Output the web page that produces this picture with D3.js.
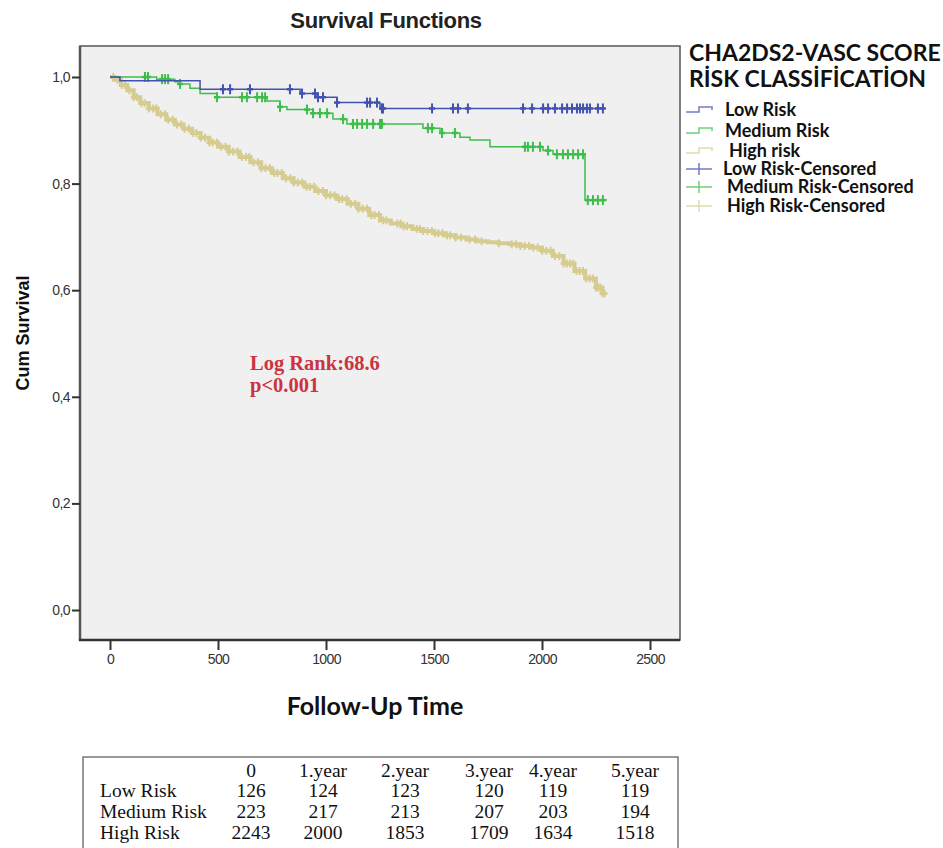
<!DOCTYPE html>
<html>
<head>
<meta charset="utf-8">
<script src="https://cdn.jsdelivr.net/npm/d3@7"></script>
<style>
  body { margin: 0; background: #fff; }
</style>
</head>
<body>
<script>
const width = 943;
const height = 848;

// Kaplan-Meier steps (time in days, cumulative survival)
const lowTime = [0, 46, 417, 880, 958, 1051, 1250];
const lowSurv = [1.0, 0.993, 0.977, 0.969, 0.962, 0.952, 0.941];
const lowEnd = 2282;
const lowCensored = [523, 556, 648, 833, 889, 949, 963, 986, 1051, 1190, 1204, 1236, 1259, 1264,
  1491, 1588, 1611, 1657, 1912, 1954, 2005, 2028, 2060, 2093, 2116, 2139, 2162, 2176, 2190, 2208, 2222, 2259, 2282];

const medTime = [0, 216, 300, 324, 370, 417, 495, 727, 787, 819, 940, 1032, 1097, 1449, 1528, 1620, 1667, 1759, 2005, 2051, 2199];
const medSurv = [1.0, 0.996, 0.991, 0.987, 0.979, 0.969, 0.962, 0.955, 0.944, 0.939, 0.932, 0.921, 0.912, 0.904, 0.895, 0.887, 0.882, 0.869, 0.862, 0.855, 0.769];
const medEnd = 2301;
const medCensored = [162, 176, 241, 255, 269, 324, 495, 611, 634, 681, 704, 718, 787, 912, 940, 972, 1005, 1079, 1125,
  1144, 1167, 1190, 1218, 1250, 1259, 1472, 1491, 1537, 1597, 1921, 1935, 1958, 1991, 2028, 2069, 2097, 2120,
  2144, 2167, 2190, 2212, 2236, 2259, 2282];

const highTime = [0, 20, 50, 80, 110, 140, 180, 220, 260, 300, 340, 380, 420, 460, 500, 550, 600, 650, 700, 750, 800,
  850, 900, 950, 1000, 1050, 1100, 1150, 1200, 1250, 1300, 1350, 1400, 1450, 1500, 1550, 1600, 1650, 1700, 1750,
  1800, 1850, 1900, 1950, 2000, 2050, 2100, 2150, 2200, 2250, 2280];
const highSurv = [1.0, 0.995, 0.985, 0.975, 0.962, 0.951, 0.941, 0.930, 0.920, 0.911, 0.903, 0.895, 0.886, 0.877,
  0.869, 0.860, 0.850, 0.840, 0.829, 0.820, 0.810, 0.802, 0.794, 0.786, 0.778, 0.771, 0.762, 0.753, 0.741, 0.731,
  0.725, 0.720, 0.715, 0.711, 0.707, 0.703, 0.699, 0.695, 0.692, 0.690, 0.688, 0.686, 0.683, 0.680, 0.674, 0.664,
  0.650, 0.636, 0.622, 0.605, 0.594];
const highEnd = 2290;
const highCensored = [15, 35, 55, 70, 90, 110, 125, 145, 160, 180, 200, 215, 235, 255, 270, 290, 310, 330, 345, 365,
  385, 400, 420, 440, 460, 475, 495, 515, 535, 550, 570, 590, 610, 630, 645, 665, 685, 700, 720, 740, 760, 775,
  795, 815, 835, 850, 870, 890, 910, 925, 945, 965, 985, 1000, 1020, 1040, 1060, 1075, 1095, 1115, 1135, 1150,
  1170, 1190, 1210, 1225, 1245, 1265, 1280, 1330, 1345, 1360, 1375, 1420, 1435, 1450, 1470, 1490, 1505, 1520,
  1540, 1560, 1575, 1600, 1625, 1665, 1690, 1720, 1800, 1860, 1880, 1900, 1920, 1940, 1960, 1980, 2000, 2020,
  2040, 2060, 2080, 2100, 2115, 2130, 2145, 2160, 2175, 2190, 2205, 2220, 2235, 2250, 2260, 2270, 2280, 2290];

const xTicks = [0, 500, 1000, 1500, 2000, 2500];
const yTicks = [0, 0.2, 0.4, 0.6, 0.8, 1.0];

const legendLabels = ["Low Risk", "Medium Risk", " High risk", "Low Risk-Censored", "Medium Risk-Censored", "High Risk-Censored"];

const tableHeader = ["0", "1.year", "2.year", "3.year", "4.year", "5.year"];
const tableRows = ["Low Risk", "Medium Risk", "High Risk"];
const tableLow = [126, 124, 123, 120, 119, 119];
const tableMedium = [223, 217, 213, 207, 203, 194];
const tableHigh = [2243, 2000, 1853, 1709, 1634, 1518];

const colBlue = "#4152b0";
const colGreen = "#3fbd4c";
const colTan = "#d6cc90";

const svg = d3.select("body").append("svg")
  .attr("width", width)
  .attr("height", height);

const x = d3.scaleLinear().domain([0, 2500]).range([110, 650]);
const y = d3.scaleLinear().domain([0, 1]).range([610, 77]);

// plot area
svg.append("rect")
  .attr("x", 80).attr("y", 46)
  .attr("width", 600).attr("height", 594)
  .attr("fill", "#f0f0f0")
  .attr("stroke", "#555")
  .attr("stroke-width", 1.5);
svg.append("line").attr("x1", 80).attr("x2", 80).attr("y1", 46).attr("y2", 641)
  .attr("stroke", "#555").attr("stroke-width", 2.5);
svg.append("line").attr("x1", 79).attr("x2", 680).attr("y1", 640).attr("y2", 640)
  .attr("stroke", "#333").attr("stroke-width", 2.5);

// axes
const yAxis = svg.append("g")
  .attr("transform", "translate(80,0)")
  .call(d3.axisLeft(y).tickValues(yTicks).tickSize(8).tickPadding(2)
    .tickFormat(d => d3.format(".1f")(d).replace(".", ",")));
const xAxis = svg.append("g")
  .attr("transform", "translate(0,640)")
  .call(d3.axisBottom(x).tickValues(xTicks).tickSize(10).tickPadding(4)
    .tickFormat(d3.format("d")));
[yAxis, xAxis].forEach(g => {
  g.select(".domain").remove();
  g.selectAll(".tick line").attr("stroke", "#333").attr("stroke-width", 2);
  g.selectAll(".tick text")
    .attr("fill", "#333")
    .attr("font-family", "'Liberation Sans', Arial, sans-serif")
    .attr("font-size", 14)
    .attr("letter-spacing", -0.6);
});

// curves
function stepData(times, surv, end) {
  const pts = times.map((t, i) => [t, surv[i]]);
  pts.push([end, surv[surv.length - 1]]);
  return pts;
}
function survAt(times, surv, t) {
  const i = d3.bisectRight(times, t) - 1;
  return surv[Math.max(0, i)];
}
const line = d3.line()
  .x(d => x(d[0]))
  .y(d => y(d[1]))
  .curve(d3.curveStepAfter);

const groups = [
  { times: highTime, surv: highSurv, end: highEnd, cens: highCensored, color: colTan, w: 4, h: 4 },
  { times: medTime, surv: medSurv, end: medEnd, cens: medCensored, color: colGreen, w: 1.5, h: 5 },
  { times: lowTime, surv: lowSurv, end: lowEnd, cens: lowCensored, color: colBlue, w: 1.5, h: 5 }
];

groups.forEach(g => {
  svg.append("path")
    .datum(stepData(g.times, g.surv, g.end))
    .attr("fill", "none")
    .attr("stroke", g.color)
    .attr("stroke-width", g.w)
    .attr("d", line);
  const marks = svg.append("g");
  marks.selectAll("line.v")
    .data(g.cens)
    .enter()
    .append("line")
      .attr("x1", d => x(d)).attr("x2", d => x(d))
      .attr("y1", d => y(survAt(g.times, g.surv, d)) - g.h)
      .attr("y2", d => y(survAt(g.times, g.surv, d)) + g.h)
      .attr("stroke", g.color)
      .attr("stroke-width", 2);
  marks.selectAll("line.h")
    .data(g.cens)
    .enter()
    .append("line")
      .attr("x1", d => x(d) - 3).attr("x2", d => x(d) + 3)
      .attr("y1", d => y(survAt(g.times, g.surv, d)))
      .attr("y2", d => y(survAt(g.times, g.surv, d)))
      .attr("stroke", g.color)
      .attr("stroke-width", 2.5);
});

// annotation
const noteFont = "'Liberation Serif', 'Times New Roman', serif";
svg.append("text")
  .attr("x", 250).attr("y", 370)
  .attr("font-family", noteFont)
  .attr("font-weight", "bold").attr("font-size", 20.5)
  .attr("fill", "#cc3340")
  .text("Log Rank:68.6");
svg.append("text")
  .attr("x", 250).attr("y", 392)
  .attr("font-family", noteFont)
  .attr("font-weight", "bold").attr("font-size", 20.5)
  .attr("fill", "#cc3340")
  .text("p<0.001");

// titles
svg.append("text")
  .attr("x", 386).attr("y", 28)
  .attr("text-anchor", "middle")
  .attr("font-family", "'Liberation Sans', Arial, sans-serif")
  .attr("font-weight", "bold").attr("font-size", 22)
  .attr("letter-spacing", -0.3)
  .attr("fill", "#222")
  .text("Survival Functions");
svg.append("text")
  .attr("transform", "translate(29,333) rotate(-90)")
  .attr("text-anchor", "middle")
  .attr("font-family", "'Liberation Sans', Arial, sans-serif")
  .attr("font-weight", "bold").attr("font-size", 18)
  .attr("fill", "#111")
  .text("Cum Survival");
svg.append("text")
  .attr("x", 375).attr("y", 715)
  .attr("text-anchor", "middle")
  .attr("font-family", "Lato, sans-serif")
  .attr("font-weight", "bold").attr("font-size", 25)
  .attr("fill", "#111")
  .text("Follow-Up Time");

// legend
const legendFont = "Lato, sans-serif";
svg.append("text")
  .attr("x", 689).attr("y", 61)
  .attr("font-family", legendFont).attr("font-weight", "bold").attr("font-size", 23)
  .attr("fill", "#111")
  .text("CHA2DS2-VASC SCORE");
svg.append("text")
  .attr("x", 689).attr("y", 87)
  .attr("font-family", legendFont).attr("font-weight", "bold").attr("font-size", 23)
  .attr("fill", "#111")
  .text("RİSK CLASSİFİCATİON");

const legendY = [110, 131, 151, 169, 187, 206];
const legendX = [725, 725, 729, 723, 727, 727];
const legendColors = [colBlue, colGreen, colTan, colBlue, colGreen, colTan];
legendLabels.forEach((label, i) => {
  const ly = legendY[i];
  if (i < 3) {
    svg.append("path")
      .attr("d", `M686,${ly + 2}H699V${ly - 3}H712V${ly}`)
      .attr("fill", "none")
      .attr("stroke", legendColors[i])
      .attr("stroke-opacity", 0.75)
      .attr("stroke-width", 1.5);
  } else {
    svg.append("path")
      .attr("d", `M686,${ly}H712M699,${ly - 6}V${ly + 6}`)
      .attr("fill", "none")
      .attr("stroke", legendColors[i])
      .attr("stroke-opacity", 0.75)
      .attr("stroke-width", 1.5);
  }
  svg.append("text")
    .attr("x", legendX[i]).attr("y", ly + 6)
    .attr("font-family", legendFont).attr("font-weight", "bold").attr("font-size", 18)
    .attr("fill", "#111")
    .text(label);
});

// number-at-risk table
svg.append("rect")
  .attr("x", 83).attr("y", 757)
  .attr("width", 595).attr("height", 100)
  .attr("fill", "#fff")
  .attr("stroke", "#555").attr("stroke-width", 1.2);

const colX = [251, 323, 405, 489, 553, 635];
const rowY = [797, 818, 839];
const tableFont = "'Liberation Serif', 'Times New Roman', serif";
svg.selectAll("text.th")
  .data(tableHeader)
  .enter()
  .append("text")
    .attr("x", (d, i) => colX[i]).attr("y", 777)
    .attr("text-anchor", "middle")
    .attr("font-family", tableFont).attr("font-size", 19.5)
    .attr("fill", "#111")
    .text(d => d);
[tableLow, tableMedium, tableHigh].forEach((row, r) => {
  svg.append("text")
    .attr("x", 100).attr("y", rowY[r])
    .attr("font-family", tableFont).attr("font-size", 19.5)
    .attr("fill", "#111")
    .text(tableRows[r]);
  svg.selectAll(null)
    .data(row)
    .enter()
    .append("text")
      .attr("x", (d, i) => colX[i]).attr("y", rowY[r])
      .attr("text-anchor", "middle")
      .attr("font-family", tableFont).attr("font-size", 19.5)
      .attr("fill", "#111")
      .text(d => d);
});
</script>
</body>
</html>
